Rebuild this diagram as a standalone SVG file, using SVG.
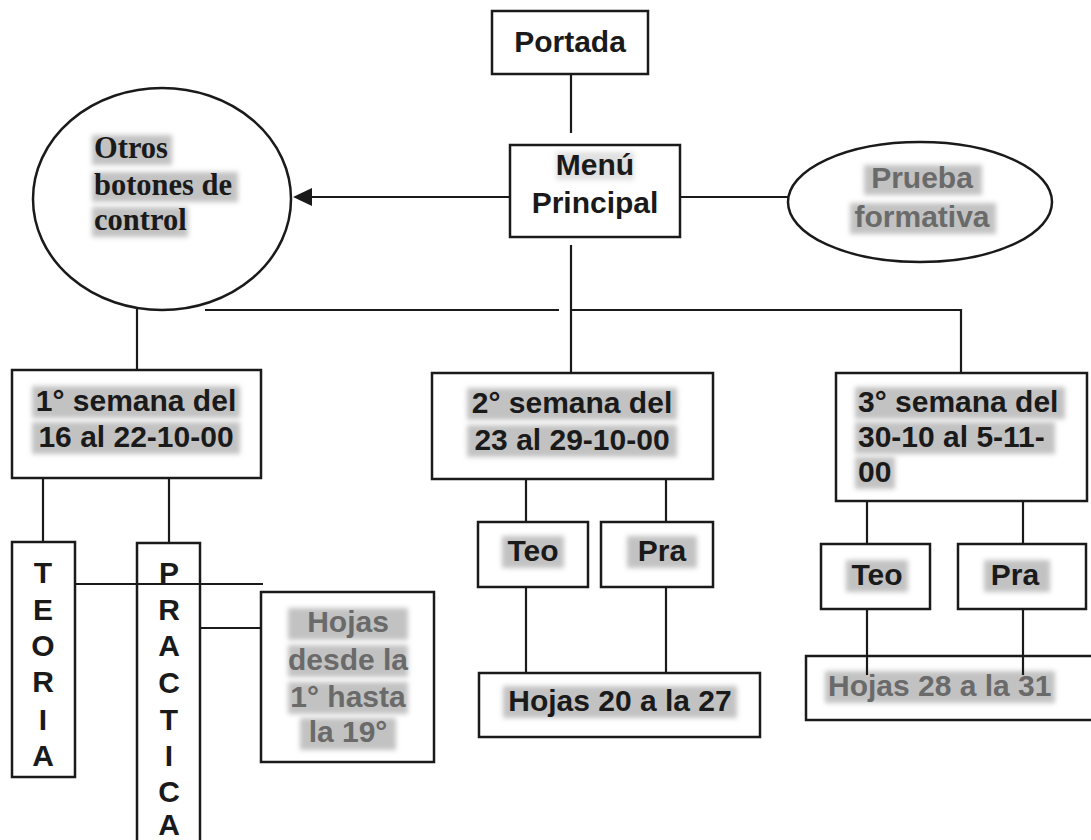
<svg xmlns="http://www.w3.org/2000/svg" width="1091" height="840" viewBox="0 0 1091 840">
<defs>
<filter id="soft" x="-20%" y="-40%" width="140%" height="180%"><feGaussianBlur stdDeviation="2.5"/></filter>
<style>
.box{fill:#fff;stroke:#1a1a1a;stroke-width:2.5}
.ln{fill:none;stroke:#1a1a1a;stroke-width:2.2}
.t{font-family:"Liberation Sans",Arial,sans-serif;font-weight:bold;font-size:30px;fill:#1a1a1a}
.c{text-anchor:middle}
.g{fill:#6a6a6a}
.s{font-family:"Liberation Serif","Times New Roman",serif;font-weight:bold;font-size:30.5px;fill:#1a1a1a}
.hl{fill:#c2c2c2;filter:url(#soft)}
</style>
</defs>
<rect width="1091" height="840" fill="#fff"/>
<g id="connectors">
<line class="ln" x1="571" y1="74" x2="571" y2="133"/>
<line class="ln" x1="510" y1="197" x2="310" y2="197"/>
<polygon points="293,197 312,188 312,206" fill="#1a1a1a"/>
<line class="ln" x1="680" y1="197" x2="788" y2="197"/>
<line class="ln" x1="571" y1="245" x2="571" y2="373"/>
<line class="ln" x1="205" y1="310" x2="559" y2="310"/>
<polyline class="ln" points="571,310 961,310 961,373"/>
<line class="ln" x1="137" y1="308" x2="137" y2="370"/>
<line class="ln" x1="43" y1="478" x2="43" y2="542"/>
<line class="ln" x1="169" y1="478" x2="169" y2="543"/>
<line class="ln" x1="526" y1="479" x2="526" y2="522"/>
<line class="ln" x1="666" y1="479" x2="666" y2="522"/>
<line class="ln" x1="526" y1="587" x2="526" y2="673"/>
<line class="ln" x1="666" y1="587" x2="666" y2="673"/>
<line class="ln" x1="867" y1="501" x2="867" y2="544"/>
<line class="ln" x1="1023" y1="501" x2="1023" y2="544"/>
<line class="ln" x1="200" y1="628" x2="261" y2="628"/>
</g>
<g id="portada">
<rect class="box" x="492" y="11" width="156" height="63"/>
<text class="t c" x="570" y="52">Portada</text>
</g>
<g id="menu">
<rect class="box" x="510" y="145" width="170" height="92"/>
<rect class="hl" x="556" y="152" width="78" height="28" opacity="0.5"/>
<text class="t c" x="595" y="175">Menú</text>
<text class="t c" x="595" y="213">Principal</text>
</g>
<g id="prueba">
<ellipse class="box" cx="920" cy="202" rx="132" ry="60"/>
<rect class="hl" x="864" y="165" width="118" height="30"/>
<rect class="hl" x="850" y="203" width="146" height="31"/>
<text class="t c g" x="922" y="188">Prueba</text>
<text class="t c g" x="922" y="227">formativa</text>
</g>
<g id="otros">
<ellipse class="box" cx="162" cy="199" rx="129" ry="111"/>
<rect class="hl" x="92" y="135" width="80" height="30"/>
<rect class="hl" x="92" y="172" width="146" height="30"/>
<rect class="hl" x="92" y="207" width="96" height="30"/>
<text class="s" x="94" y="158">Otros</text>
<text class="s" x="94" y="195">botones de</text>
<text class="s" x="94" y="230">control</text>
</g>
<g id="semana1">
<rect class="box" x="12" y="370" width="249" height="108"/>
<rect class="hl" x="32" y="386" width="208" height="32"/>
<rect class="hl" x="32" y="422" width="208" height="32"/>
<text class="t c" x="136" y="411">1° semana del</text>
<text class="t c" x="136" y="447">16 al 22-10-00</text>
</g>
<g id="semana2">
<rect class="box" x="432" y="373" width="281" height="106"/>
<rect class="hl" x="467" y="388" width="210" height="32"/>
<rect class="hl" x="467" y="425" width="210" height="32"/>
<text class="t c" x="572" y="413">2° semana del</text>
<text class="t c" x="572" y="450">23 al 29-10-00</text>
</g>
<g id="semana3">
<rect class="box" x="836" y="373" width="251" height="128"/>
<rect class="hl" x="855" y="387" width="210" height="32"/>
<rect class="hl" x="855" y="422" width="200" height="32"/>
<rect class="hl" x="855" y="457" width="40" height="32"/>
<text class="t" x="858" y="412">3° semana del</text>
<text class="t" x="858" y="447">30-10 al 5-11-</text>
<text class="t" x="858" y="482">00</text>
</g>
<g id="teoria">
<rect class="box" x="12" y="542" width="63" height="235"/>
<text class="t c" x="43" y="583">T</text>
<text class="t c" x="43" y="620">E</text>
<text class="t c" x="43" y="656">O</text>
<text class="t c" x="43" y="692">R</text>
<text class="t c" x="43" y="730">I</text>
<text class="t c" x="43" y="766">A</text>
</g>
<g id="practica">
<rect class="box" x="137" y="543" width="63" height="310"/>
<text class="t c" x="169" y="583">P</text>
<text class="t c" x="169" y="620">R</text>
<text class="t c" x="169" y="656">A</text>
<text class="t c" x="169" y="693">C</text>
<text class="t c" x="169" y="730">T</text>
<text class="t c" x="169" y="766">I</text>
<text class="t c" x="169" y="802">C</text>
<text class="t c" x="169" y="835">A</text>
</g>
<line class="ln" x1="75" y1="584" x2="263" y2="584"/>
<g id="hojas1">
<rect class="box" x="261" y="592" width="173" height="170"/>
<rect class="hl" x="288" y="608" width="120" height="32"/>
<rect class="hl" x="288" y="645" width="120" height="32"/>
<rect class="hl" x="288" y="682" width="120" height="32"/>
<rect class="hl" x="300" y="718" width="96" height="32"/>
<text class="t c g" x="348" y="632">Hojas</text>
<text class="t c g" x="348" y="670">desde la</text>
<text class="t c g" x="348" y="707">1° hasta</text>
<text class="t c g" x="348" y="742">la 19°</text>
</g>
<g id="teo2">
<rect class="box" x="478" y="522" width="110" height="65"/>
<rect class="hl" x="502" y="536" width="62" height="32"/>
<text class="t c" x="533" y="561">Teo</text>
</g>
<g id="pra2">
<rect class="box" x="601" y="522" width="112" height="65"/>
<rect class="hl" x="627" y="536" width="70" height="32"/>
<text class="t c" x="662" y="561">Pra</text>
</g>
<g id="hojas2">
<rect class="box" x="479" y="673" width="281" height="64"/>
<rect class="hl" x="503" y="686" width="234" height="32"/>
<text class="t c" x="620" y="711">Hojas 20 a la 27</text>
</g>
<g id="teo3">
<rect class="box" x="821" y="544" width="109" height="65"/>
<rect class="hl" x="846" y="560" width="62" height="32"/>
<text class="t c" x="877" y="585">Teo</text>
</g>
<g id="pra3">
<rect class="box" x="958" y="544" width="128" height="65"/>
<rect class="hl" x="984" y="560" width="66" height="32"/>
<text class="t c" x="1015" y="585">Pra</text>
</g>
<g id="hojas3">
<rect class="box" x="806" y="656" width="292" height="64"/>
<rect class="hl" x="825" y="671" width="230" height="32"/>
<text class="t g" x="828" y="696">Hojas 28 a la 31</text>
</g>
<g id="connectors-over">
<line class="ln" x1="867" y1="609" x2="867" y2="675"/>
<line class="ln" x1="1023" y1="609" x2="1023" y2="675"/>
</g>
</svg>
